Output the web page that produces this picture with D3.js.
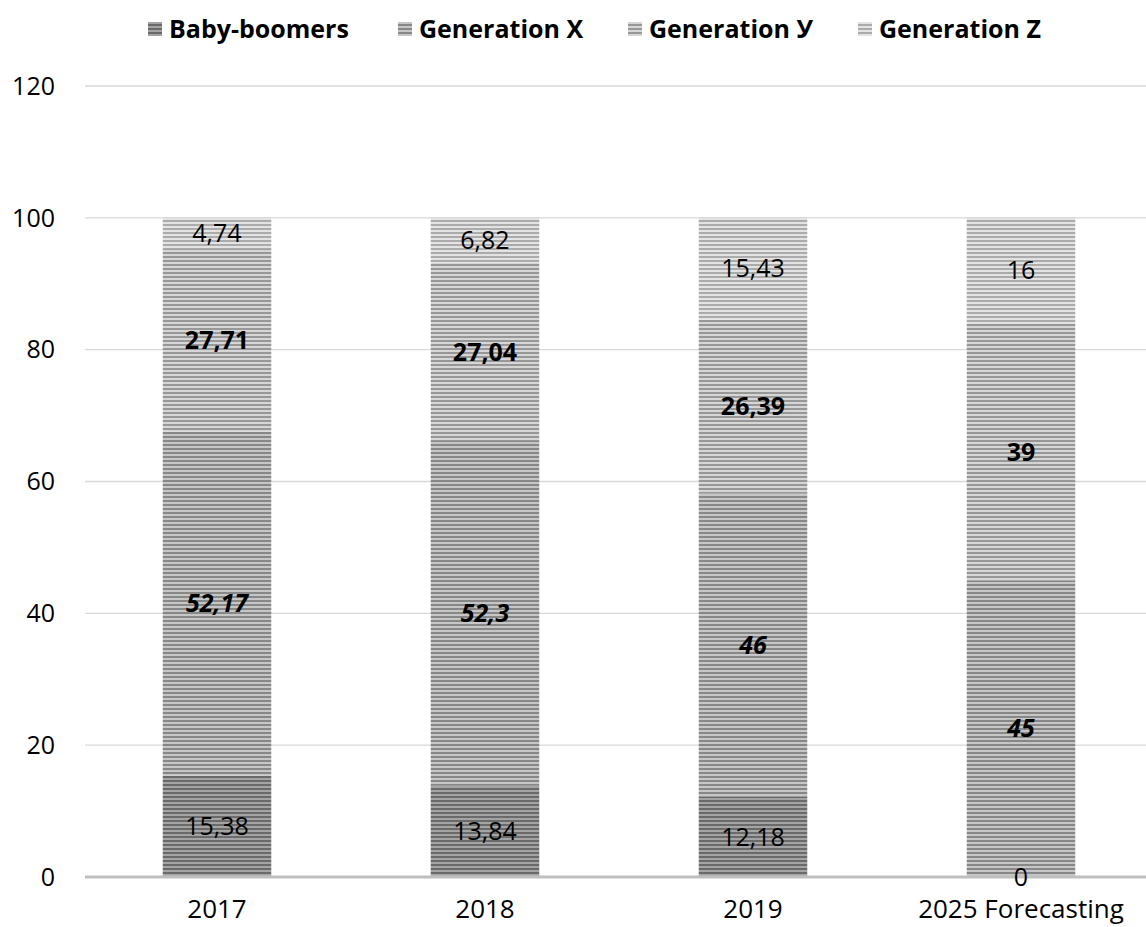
<!DOCTYPE html>
<html>
<head>
<meta charset="utf-8">
<script src="https://cdn.jsdelivr.net/npm/d3@7"></script>
<style>
  body { margin: 0; background: #fff; }
  svg { display: block; font-family: "Open Sans", Carlito, Lato, sans-serif; }
</style>
</head>
<body>
<div id="chart"></div>
<script>
const years = ["2017", "2018", "2019", "2025 Forecasting"];
const series = ["Baby-boomers", "Generation X", "Generation У", "Generation Z"];
const babyBoomers = [15.38, 13.84, 12.18, 0];
const genX = [52.17, 52.3, 46, 45];
const genY = [27.71, 27.04, 26.39, 39];
const genZ = [4.74, 6.82, 15.43, 16];
const labels = [
  ["15,38", "13,84", "12,18", "0"],
  ["52,17", "52,3", "46", "45"],
  ["27,71", "27,04", "26,39", "39"],
  ["4,74", "6,82", "15,43", "16"]
];
const yTicks = [0, 20, 40, 60, 80, 100, 120];

// stripe colours per series (dark, light)
const stripes = [["#6a6a6a", "#a4a4a4"], ["#878787", "#c6c6c6"], ["#979797", "#d6d6d6"], ["#ababab", "#e3e3e3"]];
const labelStyle = [
  { weight: "normal", style: "normal" },
  { weight: "bold", style: "italic" },
  { weight: "bold", style: "normal" },
  { weight: "normal", style: "normal" }
];

const W = 1146, H = 927;
const svg = d3.select("#chart").append("svg").attr("width", W).attr("height", H);

const defs = svg.append("defs");
stripes.forEach((c, i) => {
  const p = defs.append("pattern")
    .attr("id", "stripe" + i)
    .attr("patternUnits", "userSpaceOnUse")
    .attr("width", 8).attr("height", 4);
  p.append("rect").attr("width", 8).attr("height", 4).attr("fill", c[1]);
  p.append("rect").attr("y", 0).attr("width", 8).attr("height", 2).attr("fill", c[0]);
});

const y = d3.scaleLinear().domain([0, 120]).range([877, 86]);
const x = d3.scaleBand().domain(years).range([83, 1155]);
const barW = x.bandwidth() * 0.405;

// gridlines
svg.append("g").selectAll("line")
  .data(yTicks.filter(d => d > 0))
  .join("line")
  .attr("x1", 85).attr("x2", W)
  .attr("y1", d => y(d)).attr("y2", d => y(d))
  .attr("stroke", "#d9d9d9").attr("stroke-width", 1.3);

// y labels
svg.append("g").selectAll("text")
  .data(yTicks)
  .join("text")
  .attr("x", 55).attr("y", d => y(d))
  .attr("dy", "0.35em")
  .attr("text-anchor", "end")
  .attr("font-size", 25)
  .attr("fill", "#000")
  .text(d => d);

const data = years.map((yr, i) => ({
  year: yr,
  "Baby-boomers": babyBoomers[i],
  "Generation X": genX[i],
  "Generation У": genY[i],
  "Generation Z": genZ[i]
}));
const stacked = d3.stack().keys(series)(data);

const bars = svg.append("g");
stacked.forEach((s, si) => {
  bars.selectAll(null)
    .data(s)
    .join("rect")
    .attr("x", d => x(d.data.year) + x.bandwidth() / 2 - barW / 2)
    .attr("y", d => y(d[1]))
    .attr("width", barW)
    .attr("height", d => y(d[0]) - y(d[1]))
    .attr("fill", "url(#stripe" + si + ")");
});

// baseline
svg.append("line")
  .attr("x1", 85).attr("x2", W)
  .attr("y1", y(0)).attr("y2", y(0))
  .attr("stroke", "#bfbfbf").attr("stroke-width", 3);

// value labels
stacked.forEach((s, si) => {
  svg.append("g").selectAll("text")
    .data(s)
    .join("text")
    .attr("x", d => x(d.data.year) + x.bandwidth() / 2)
    .attr("y", d => y((d[0] + d[1]) / 2))
    .attr("dy", "0.35em")
    .attr("text-anchor", "middle")
    .attr("font-size", 25)
    .attr("font-weight", labelStyle[si].weight)
    .attr("font-style", labelStyle[si].style)
    .attr("fill", "#000")
    .text((d, i) => labels[si][i]);
});

// x labels
svg.append("g").selectAll("text")
  .data(years)
  .join("text")
  .attr("x", d => x(d) + x.bandwidth() / 2)
  .attr("y", 918)
  .attr("text-anchor", "middle")
  .attr("font-size", 26)
  .attr("fill", "#000")
  .text(d => d);

// legend
const legendX = [148, 398, 628, 858];
const legend = svg.append("g");
series.forEach((name, i) => {
  legend.append("rect")
    .attr("x", legendX[i]).attr("y", 22)
    .attr("width", 14).attr("height", 14)
    .attr("fill", "url(#stripe" + i + ")");
  legend.append("text")
    .attr("x", legendX[i] + 21).attr("y", 29)
    .attr("dy", "0.35em")
    .attr("font-size", 25)
    .attr("font-weight", "bold")
    .attr("fill", "#000")
    .text(name);
});
</script>
</body>
</html>
